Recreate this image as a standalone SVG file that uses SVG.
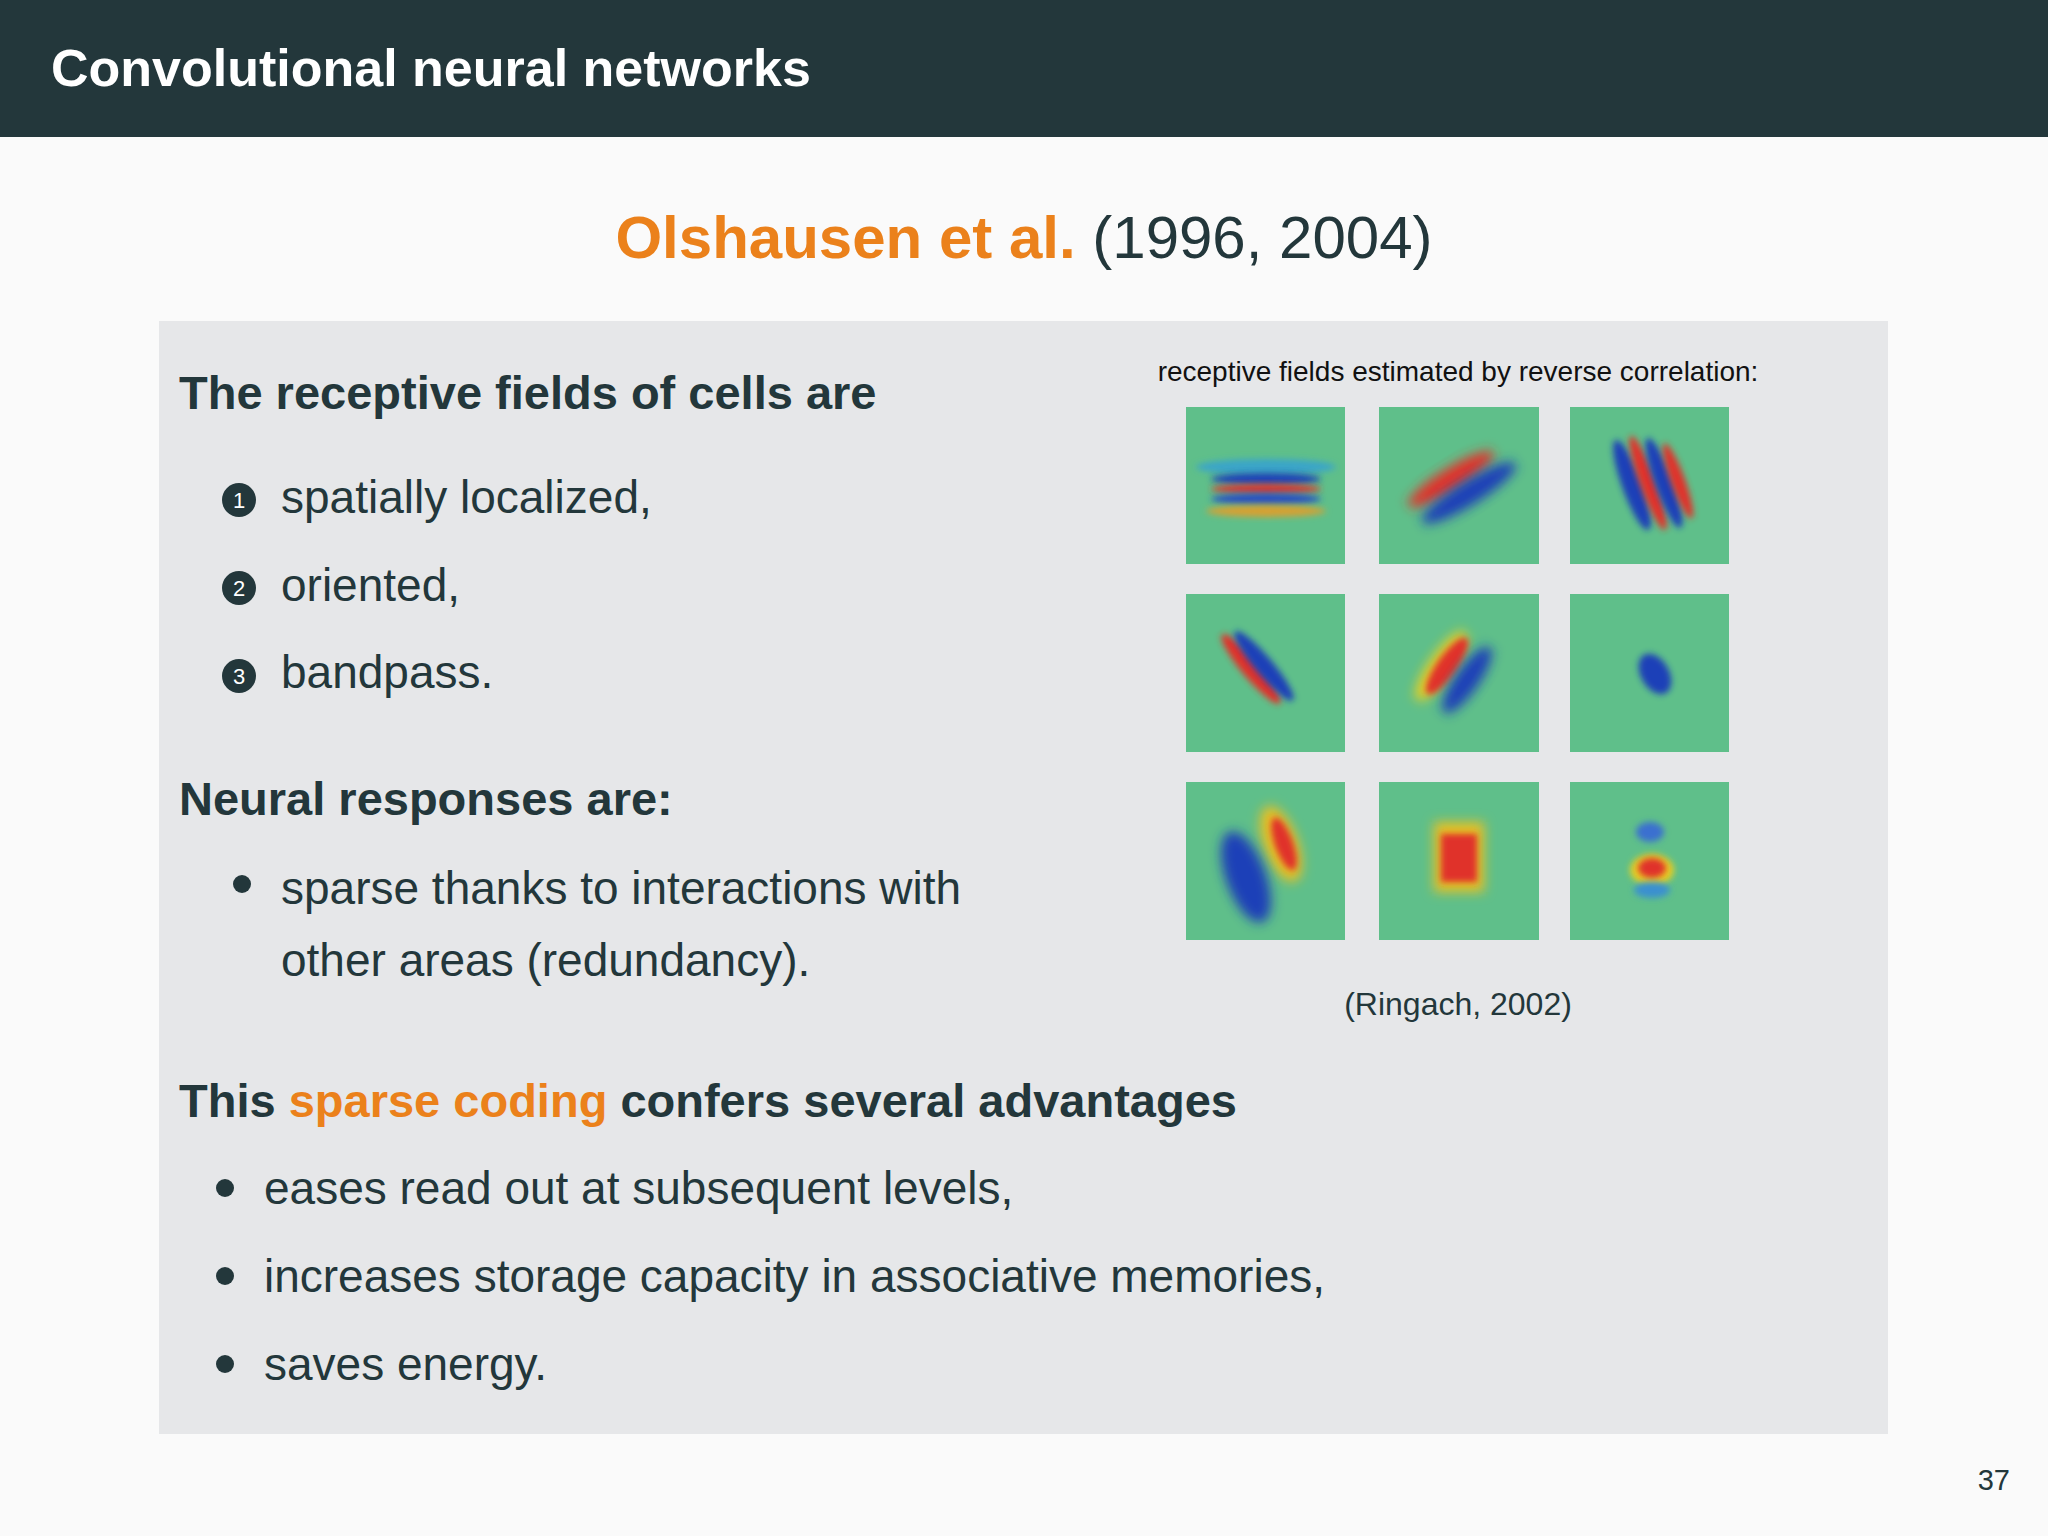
<svg xmlns="http://www.w3.org/2000/svg" width="2048" height="1536" viewBox="0 0 2048 1536">
<style>
text{font-family:"Liberation Sans","Noto Sans",sans-serif;fill:#23373b}
.b{font-weight:bold;font-size:47px}
.t{font-size:46px}
.o{fill:#eb811b}
.n{fill:#fff;font-size:22px;text-anchor:middle}
.bg{fill:#5fbf8a}
</style>
<defs>
<filter id="bl" x="-50%" y="-50%" width="200%" height="200%"><feGaussianBlur stdDeviation="6"/></filter>
<filter id="bl2" x="-50%" y="-50%" width="200%" height="200%"><feGaussianBlur stdDeviation="3"/></filter>
</defs>
<rect width="2048" height="1536" fill="#fafafa"/>
<rect width="2048" height="137" fill="#23373b"/>
<text x="51" y="86" style="fill:#fff;font-weight:bold;font-size:52px">Convolutional neural networks</text>
<text x="1024" y="258" text-anchor="middle" style="font-size:60px"><tspan class="o" font-weight="bold">Olshausen et al.</tspan> (1996, 2004)</text>
<rect x="159" y="321" width="1729" height="1113" fill="#e6e7e9"/>
<g id="left">
<text x="179" y="409" class="b">The receptive fields of cells are</text>
<circle cx="239" cy="500" r="17" fill="#23373b"/><text x="239" y="508" class="n">1</text>
<text x="281" y="513" class="t">spatially localized,</text>
<circle cx="239" cy="588" r="17" fill="#23373b"/><text x="239" y="596" class="n">2</text>
<text x="281" y="601" class="t">oriented,</text>
<circle cx="239" cy="676" r="17" fill="#23373b"/><text x="239" y="684" class="n">3</text>
<text x="281" y="688" class="t">bandpass.</text>
<text x="179" y="815" class="b">Neural responses are:</text>
<circle cx="242" cy="884" r="9" fill="#23373b"/>
<text x="281" y="904" class="t">sparse thanks to interactions with</text>
<text x="281" y="976" class="t">other areas (redundancy).</text>
<text x="179" y="1117" class="b">This <tspan class="o">sparse coding</tspan> confers several advantages</text>
<circle cx="225" cy="1188" r="9" fill="#23373b"/>
<text x="264" y="1204" class="t">eases read out at subsequent levels,</text>
<circle cx="225" cy="1276" r="9" fill="#23373b"/>
<text x="264" y="1292" class="t">increases storage capacity in associative memories,</text>
<circle cx="225" cy="1364" r="9" fill="#23373b"/>
<text x="264" y="1380" class="t">saves energy.</text>
</g>
<text x="1458" y="381" text-anchor="middle" style="font-size:28px;fill:#111">receptive fields estimated by reverse correlation:</text>
<g id="fields">
<g transform="translate(1186,407)"><rect class="bg" width="159" height="157"/>
<ellipse cx="80" cy="60" rx="70" ry="8" fill="#3aa5c8" filter="url(#bl2)"/>
<ellipse cx="80" cy="72" rx="55" ry="6" fill="#1d3fb8" filter="url(#bl2)"/>
<ellipse cx="80" cy="82" rx="55" ry="5" fill="#e0302a" filter="url(#bl2)"/>
<ellipse cx="80" cy="92" rx="55" ry="6" fill="#2a4fc0" filter="url(#bl2)"/>
<ellipse cx="80" cy="104" rx="60" ry="6" fill="#d8a030" filter="url(#bl2)"/></g>
<g transform="translate(1379,407)"><rect class="bg" width="160" height="157"/>
<ellipse cx="72" cy="72" rx="50" ry="11" fill="#e0302a" transform="rotate(-32 72 72)" filter="url(#bl)"/>
<ellipse cx="90" cy="86" rx="55" ry="12" fill="#1d3fb8" transform="rotate(-32 90 86)" filter="url(#bl)"/></g>
<g transform="translate(1570,407)"><rect class="bg" width="159" height="157"/>
<ellipse cx="62" cy="78" rx="10" ry="48" fill="#1d3fb8" transform="rotate(-20 62 78)" filter="url(#bl2)"/>
<ellipse cx="78" cy="76" rx="8" ry="50" fill="#e0302a" transform="rotate(-20 78 76)" filter="url(#bl2)"/>
<ellipse cx="94" cy="76" rx="9" ry="48" fill="#1d3fb8" transform="rotate(-20 94 76)" filter="url(#bl2)"/>
<ellipse cx="108" cy="74" rx="7" ry="40" fill="#e0302a" transform="rotate(-20 108 74)" filter="url(#bl2)"/></g>
<g transform="translate(1186,594)"><rect class="bg" width="159" height="158"/>
<ellipse cx="65" cy="75" rx="45" ry="9" fill="#e0302a" transform="rotate(50 65 75)" filter="url(#bl2)"/>
<ellipse cx="78" cy="72" rx="45" ry="9" fill="#1d3fb8" transform="rotate(50 78 72)" filter="url(#bl2)"/></g>
<g transform="translate(1379,594)"><rect class="bg" width="160" height="158"/>
<ellipse cx="62" cy="72" rx="12" ry="42" fill="#e8d020" transform="rotate(35 62 72)" filter="url(#bl)"/>
<ellipse cx="68" cy="72" rx="10" ry="34" fill="#e0302a" transform="rotate(35 68 72)" filter="url(#bl2)"/>
<ellipse cx="88" cy="86" rx="12" ry="40" fill="#1d3fb8" transform="rotate(35 88 86)" filter="url(#bl)"/></g>
<g transform="translate(1570,594)"><rect class="bg" width="159" height="158"/>
<ellipse cx="85" cy="80" rx="14" ry="22" fill="#1d3fb8" transform="rotate(-30 85 80)" filter="url(#bl2)"/></g>
<g transform="translate(1186,782)"><rect class="bg" width="159" height="158"/>
<ellipse cx="95" cy="62" rx="17" ry="40" fill="#e8c020" transform="rotate(-20 95 62)" filter="url(#bl)"/>
<ellipse cx="98" cy="62" rx="9" ry="28" fill="#e0302a" transform="rotate(-20 98 62)" filter="url(#bl2)"/>
<ellipse cx="60" cy="95" rx="20" ry="48" fill="#1d3fb8" transform="rotate(-20 60 95)" filter="url(#bl)"/></g>
<g transform="translate(1379,782)"><rect class="bg" width="160" height="158"/>
<rect x="55" y="40" width="50" height="70" fill="#e8c020" filter="url(#bl)"/>
<rect x="62" y="52" width="36" height="48" fill="#e0302a" filter="url(#bl2)"/></g>
<g transform="translate(1570,782)"><rect class="bg" width="159" height="158"/>
<ellipse cx="80" cy="50" rx="14" ry="10" fill="#3a70d0" filter="url(#bl2)"/>
<ellipse cx="82" cy="88" rx="22" ry="16" fill="#e8d020" filter="url(#bl2)"/>
<ellipse cx="82" cy="86" rx="14" ry="10" fill="#e0302a" filter="url(#bl2)"/>
<ellipse cx="82" cy="108" rx="18" ry="8" fill="#3a90d0" filter="url(#bl2)"/></g>
</g>
<text x="1458" y="1015" text-anchor="middle" style="font-size:32px">(Ringach, 2002)</text>
<text x="2010" y="1490" text-anchor="end" style="font-size:29px">37</text>
</svg>
